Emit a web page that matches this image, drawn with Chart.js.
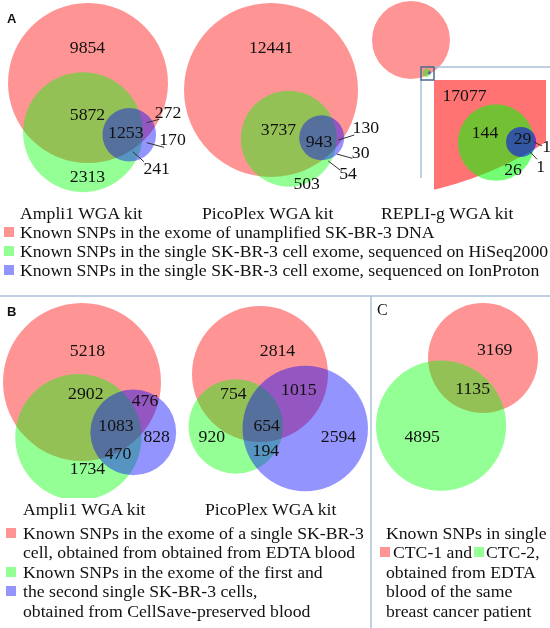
<!DOCTYPE html>
<html>
<head>
<meta charset="utf-8">
<title>Known SNPs - Venn diagrams</title>
<script src="https://cdn.jsdelivr.net/npm/chart.js"></script>
<style>
  body { margin: 0; background: #fff; }
  #page { position: relative; width: 550px; height: 628px; overflow: hidden;
          font-family: "Liberation Serif", "Times New Roman", serif; font-size: 17.7px; color: #111; }
  #page canvas { position: absolute; }
  .t { position: absolute; white-space: nowrap; line-height: 20px; transform: translateY(-50%); }
  .n { position: absolute; white-space: nowrap; line-height: 1; transform: translate(-50%, -50%); }
  .sq { position: absolute; width: 10px; height: 10px; transform: translateY(-50%); }
  .letter { position: absolute; line-height: 1; font-family: "Liberation Sans", Arial, sans-serif; font-weight: bold; font-size: 13px; }
  .letterC { position: absolute; line-height: 1; font-size: 16px; }
  svg { position: absolute; left: 0; top: 0; }
</style>
</head>
<body>
<div id="page"></div>
<script>
// region order in every diagram:
// red only, green only, blue only, red+green, red+blue, green+blue, all three
const ampliA = [9854, 2313, 170, 5872, 272, 241, 1253];
const picoA  = [12441, 503, 30, 3737, 130, 54, 943];
const repliA = [17077, 26, 0, 144, 1, 1, 29];
const ampliB = [5218, 1734, 828, 2902, 476, 470, 1083];
const picoB  = [2814, 920, 2594, 754, 1015, 194, 654];
const ctcC   = [3169, 4895, 0, 1135, 0, 0, 0];

const kitsA = ['Ampli1 WGA kit', 'PicoPlex WGA kit', 'REPLI-g WGA kit'];
const kitsB = ['Ampli1 WGA kit', 'PicoPlex WGA kit'];
const legendA = [
  'Known SNPs in the exome of unamplified SK-BR-3 DNA',
  'Known SNPs in the single SK-BR-3 cell exome, sequenced on HiSeq2000',
  'Known SNPs in the single SK-BR-3 cell exome, sequenced on IonProton'
];
const legendB = [
  'Known SNPs in the exome of a single SK-BR-3',
  'cell, obtained from obtained from EDTA blood',
  'Known SNPs in the exome of the first and',
  'the second single SK-BR-3 cells,',
  'obtained from CellSave-preserved blood'
];
const legendC = ['Known SNPs in single', 'CTC-1 and', 'CTC-2,', 'obtained from EDTA', 'blood of the same', 'breast cancer patient'];

const rgb = ['255,0,0', '0,255,0', '0,0,255'];
const frameColor = '#a9c1d9';

// where each diagram sits on the page (first circle centre, its radius in px, direction to 2nd circle)
const views = {
  ampliA: { box: [0, 0, 185, 200],   cx: 88,  cy: 83,   rPx: 80,  angle: 95.8,  side: -1, alpha: 0.42 },
  picoA:  { box: [180, 0, 190, 200], cx: 271, cy: 90,   rPx: 87,  angle: 70,    side: -1, alpha: 0.42 },
  repliA: { box: [365, 0, 95, 85],   cx: 411, cy: 40,   rPx: 39,  angle: 64.4,  side: -1, alpha: 0.42 },
  inset:  { box: [434, 80, 112, 120], cx: 353, cy: -156, rPx: 355, angle: 64.4, side: -1, alpha: 0.55 },
  ampliB: { box: [0, 298, 185, 200], cx: 82,  cy: 382,  rPx: 79,  angle: 93.7,  side: -1, alpha: 0.42 },
  picoB:  { box: [180, 298, 191, 200], cx: 260, cy: 374, rPx: 68, angle: 114.8, side: -1, alpha: 0.42 },
  ctcC:   { box: [372, 298, 178, 200], cx: 483, cy: 358, rPx: 55, angle: 121.8, side: 1,  alpha: 0.42 }
};

// number positions, same region order as the data
const labelPos = {
  ampliA: [[87.5,47.7],[87.5,176.7],[172.5,140],[87.5,115],[168,113],[156.7,169.3],[125.8,132.7]],
  picoA:  [[271,48],[306.7,184.3],[360.7,152.7],[278.5,130],[365.8,128.3],[348,174],[319,141.7]],
  repliA: [[464.5,95.7],[513,170],null,[485,133.3],[546.7,146.7],[540.7,166.7],[522.5,139.3]],
  ampliB: [[87.5,350.7],[87.5,469.3],[156.7,436.7],[85.8,394.3],[145,400.7],[118,454.3],[116,426]],
  picoB:  [[277.5,350.7],[211.8,436.7],[338.5,436.7],[233.3,394],[298.8,390],[265.8,450.7],[266.7,426]],
  ctcC:   [[494.7,350],[422.2,437.3],null,[472.7,389.3],null,null,null]
};
const leaders = [
  [146.7,122.7,159.3,119.3], [146.7,142.7,164,147.3], [132.7,151.7,144,161.7],
  [338.3,140,354.3,135], [336.7,154,352.3,158.3], [328.3,161,340,170],
  [533.3,141.7,542,146], [530,151.7,537,159.3]
];

const page = document.getElementById('page');

// area of the lens between two circles
function lensArea(r1, r2, d) {
  if (d >= r1 + r2) return 0;
  if (d <= Math.abs(r1 - r2)) return Math.PI * Math.min(r1, r2) ** 2;
  const a = r1 * r1 * Math.acos((d * d + r1 * r1 - r2 * r2) / (2 * d * r1));
  const b = r2 * r2 * Math.acos((d * d + r2 * r2 - r1 * r1) / (2 * d * r2));
  const c = 0.5 * Math.sqrt((-d + r1 + r2) * (d + r1 - r2) * (d - r1 + r2) * (d + r1 + r2));
  return a + b - c;
}
function distFor(r1, r2, overlap) {
  let lo = Math.abs(r1 - r2), hi = r1 + r2;
  for (let i = 0; i < 60; i++) {
    const mid = (lo + hi) / 2;
    if (lensArea(r1, r2, mid) > overlap) lo = mid; else hi = mid;
  }
  return (lo + hi) / 2;
}

// area proportional circles, first circle at 0,0
function layout(v, angle, side) {
  const [r, g, b, rg, rb, gb, rgb3] = v;
  const tot = [r + rg + rb + rgb3, g + rg + gb + rgb3, b + rb + gb + rgb3];
  const rad = tot.map(t => Math.sqrt(t / Math.PI));
  const a = angle * Math.PI / 180;
  const ux = Math.cos(a), uy = Math.sin(a);
  const dRG = distFor(rad[0], rad[1], rg + rgb3);
  const out = [{ x: 0, y: 0, rad: rad[0], i: 0 }, { x: dRG * ux, y: dRG * uy, rad: rad[1], i: 1 }];
  if (tot[2] > 0) {
    const dRB = distFor(rad[0], rad[2], rb + rgb3);
    const dGB = distFor(rad[1], rad[2], gb + rgb3);
    const along = (dRB * dRB - dGB * dGB + dRG * dRG) / (2 * dRG);
    const h = Math.sqrt(Math.max(0, dRB * dRB - along * along));
    out.push({ x: along * ux - side * h * uy, y: along * uy + side * h * ux, rad: rad[2], i: 2 });
  }
  return out;
}

function drawVenn(counts, view) {
  const circles = layout(counts, view.angle, view.side);
  const k = view.rPx / circles[0].rad;
  const [left, top, w, h] = view.box;
  const canvas = document.createElement('canvas');
  canvas.width = w; canvas.height = h;
  canvas.style.left = left + 'px'; canvas.style.top = top + 'px';
  page.appendChild(canvas);
  const radius = ctx => {
    const s = ctx.chart.scales.x;
    return ctx.raw ? Math.abs(s.getPixelForValue(ctx.raw.rad) - s.getPixelForValue(0)) : 0;
  };
  new Chart(canvas, {
    type: 'scatter',
    data: {
      datasets: [{
        data: circles,
        pointRadius: radius,
        pointHoverRadius: radius,
        pointBackgroundColor: circles.map(c => 'rgba(' + rgb[c.i] + ',' + view.alpha + ')'),
        pointBorderWidth: 0,
        showLine: false,
        clip: false
      }]
    },
    options: {
      responsive: false,
      animation: false,
      events: [],
      layout: { padding: 0 },
      plugins: { legend: { display: false }, tooltip: { enabled: false } },
      scales: {
        x: { type: 'linear', display: false, min: (left - view.cx) / k, max: (left - view.cx + w) / k },
        y: { type: 'linear', display: false, reverse: true, min: (top - view.cy) / k, max: (top - view.cy + h) / k }
      }
    }
  });
}

drawVenn(ampliA, views.ampliA);
drawVenn(picoA, views.picoA);
drawVenn(repliA, views.repliA);
drawVenn(repliA, views.inset);
drawVenn(ampliB, views.ampliB);
drawVenn(picoB, views.picoB);
drawVenn(ctcC, views.ctcC);

// lines: panel frames, zoom box, leader lines
const NS = 'http://www.w3.org/2000/svg';
const svg = document.createElementNS(NS, 'svg');
svg.setAttribute('width', 550); svg.setAttribute('height', 628);
page.appendChild(svg);
function line(x1, y1, x2, y2, color, wd) {
  const l = document.createElementNS(NS, 'line');
  l.setAttribute('x1', x1); l.setAttribute('y1', y1); l.setAttribute('x2', x2); l.setAttribute('y2', y2);
  l.setAttribute('stroke', color); l.setAttribute('stroke-width', wd);
  svg.appendChild(l);
}
line(0, 296, 550, 296, frameColor, 1.5);
line(371, 296, 371, 628, frameColor, 1.5);
line(421, 80, 421, 178, frameColor, 1.5);
line(434, 67, 550, 67, frameColor, 1.5);
const box = document.createElementNS(NS, 'rect');
box.setAttribute('x', 421); box.setAttribute('y', 67); box.setAttribute('width', 13); box.setAttribute('height', 13);
box.setAttribute('fill', 'none'); box.setAttribute('stroke', '#4a6a8e'); box.setAttribute('stroke-width', 1.5);
svg.appendChild(box);
leaders.forEach(p => line(p[0], p[1], p[2], p[3], '#333', 1));

function addText(str, x, y, cls) {
  const d = document.createElement('div');
  d.className = cls; d.textContent = str;
  d.style.left = x + 'px'; d.style.top = y + 'px';
  page.appendChild(d);
  return d;
}
function addSquare(x, y, i) {
  const d = addText('', x, y, 'sq');
  d.style.background = 'rgba(' + rgb[i] + ',0.42)';
}

// region numbers
[['ampliA', ampliA], ['picoA', picoA], ['repliA', repliA], ['ampliB', ampliB], ['picoB', picoB], ['ctcC', ctcC]]
  .forEach(([key, vals]) => {
    labelPos[key].forEach((p, i) => { if (p) addText(String(vals[i]), p[0], p[1], 'n'); });
  });

// panel letters
addText('A', 7, 12.3, 'letter');
addText('B', 7, 305.3, 'letter');
addText('C', 377, 302.2, 'letterC');

// kit names
[20, 202, 381].forEach((x, i) => addText(kitsA[i], x, 213, 't'));
[23, 205].forEach((x, i) => addText(kitsB[i], x, 509, 't'));

// legend A
[232, 251, 270].forEach((y, i) => { addSquare(4, y, i); addText(legendA[i], 20, y, 't'); });

// legend B
const rowsB = [533, 552, 572, 591, 611];
rowsB.forEach((y, i) => addText(legendB[i], 23, y, 't'));
addSquare(6, rowsB[0], 0);
addSquare(6, rowsB[2], 1);
addSquare(6, rowsB[3], 2);

// legend C
addText(legendC[0], 386, rowsB[0], 't');
addSquare(380, rowsB[1], 0);
addText(legendC[1], 393, rowsB[1], 't');
addSquare(474, rowsB[1], 1);
addText(legendC[2], 486, rowsB[1], 't');
addText(legendC[3], 386, rowsB[2], 't');
addText(legendC[4], 386, rowsB[3], 't');
addText(legendC[5], 386, rowsB[4], 't');
</script>
</body>
</html>
